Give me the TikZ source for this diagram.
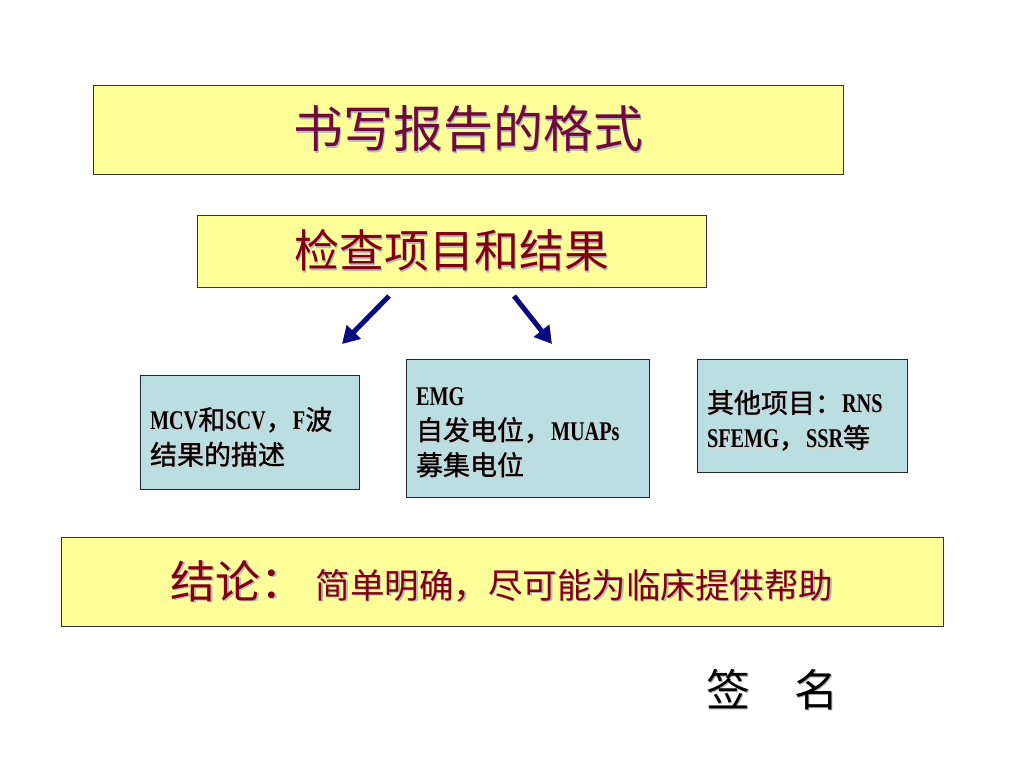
\documentclass[tikz,border=0pt]{standalone}
\usepackage{fontspec}
\setmainfont{Noto Sans CJK SC}
\newfontfamily\cjkb{Noto Sans CJK SC}[FakeBold=1]
\newfontfamily\lat{Liberation Serif}[FakeStretch=0.75]
\usetikzlibrary{arrows.meta}
\definecolor{boxyellow}{RGB}{255,255,153}
\definecolor{boxblue}{RGB}{186,222,226}
\definecolor{titlered}{RGB}{110,10,60}
\definecolor{darkred}{RGB}{128,0,16}
\definecolor{arrowblue}{RGB}{10,10,128}
\newcommand\shd[2][gray!55]{\makebox[0pt][l]{\hspace{1.6pt}\raisebox{-1.6pt}{\textcolor{#1}{#2}}}#2}
\newcommand\lsh[1]{\shd[gray!35]{#1}}
\newcommand\latw[1]{{\lat\bfseries #1}}
\newcommand\topstrut[1][34pt]{\rule{0pt}{#1}}
\begin{document}
\begin{tikzpicture}[x=1pt,y=-1pt,
  ybox/.style={draw=black!80, fill=boxyellow, line width=0.8pt, inner sep=0pt},
  bbox/.style={draw=black!85, fill=boxblue, line width=0.8pt, inner xsep=10pt, inner ysep=0pt,
    align=left, font=\cjkb\fontsize{27}{35}\selectfont},
  arr/.style={draw=arrowblue, line width=5pt, -{Triangle[width=19pt,length=17pt]}}
]
\useasboundingbox[fill=white] (0,0) rectangle (1024,768);
\node[ybox, minimum width=750pt, minimum height=89pt, text=titlered,
  font=\fontsize{50}{50}\selectfont] (title) at (468,129.5) {\shd{书写报告的格式}};
\node[ybox, minimum width=509pt, minimum height=72pt, text=darkred,
  font=\fontsize{45}{45}\selectfont] (items) at (451.5,251) {\shd{检查项目和结果}};

\coordinate (a1s) at (389,296);
\coordinate (a1e) at (342,344);
\coordinate (a2s) at (514,296);
\coordinate (a2e) at (552,344);
\draw[arr] (a1s) -- (a1e);
\draw[arr] (a2s) -- (a2e);

\node[bbox, text width=199pt, minimum height=114pt] (ncs) at (249.5,432)
  {\topstrut\lsh{\latw{MCV}和\latw{SCV}，\latw{F}波}\\\lsh{结果的描述}};
\node[bbox, text width=223pt, minimum height=138pt] (emg) at (527.5,428)
  {\topstrut[28pt]\lsh{\latw{EMG}}\\\lsh{自发电位，\latw{MUAPs}}\\\lsh{募集电位}};
\node[bbox, text width=190pt, minimum height=113pt] (other) at (802,415.5)
  {\topstrut\lsh{其他项目：\latw{RNS}}\\\lsh{\latw{SFEMG}，\latw{SSR}等}};

\node[ybox, minimum width=882pt, minimum height=89pt, text=darkred] (concl) at (502,582)
  {\shd{{\fontsize{45}{45}\selectfont 结论：}\hspace{10pt}{\fontsize{34.5}{34.5}\selectfont 简单明确，尽可能为临床提供帮助}}};

\node[font=\fontsize{44}{44}\selectfont, text=black] (sign) at (772,690) {\shd[gray!60]{签\hspace{44pt}名}};
\end{tikzpicture}
\end{document}
